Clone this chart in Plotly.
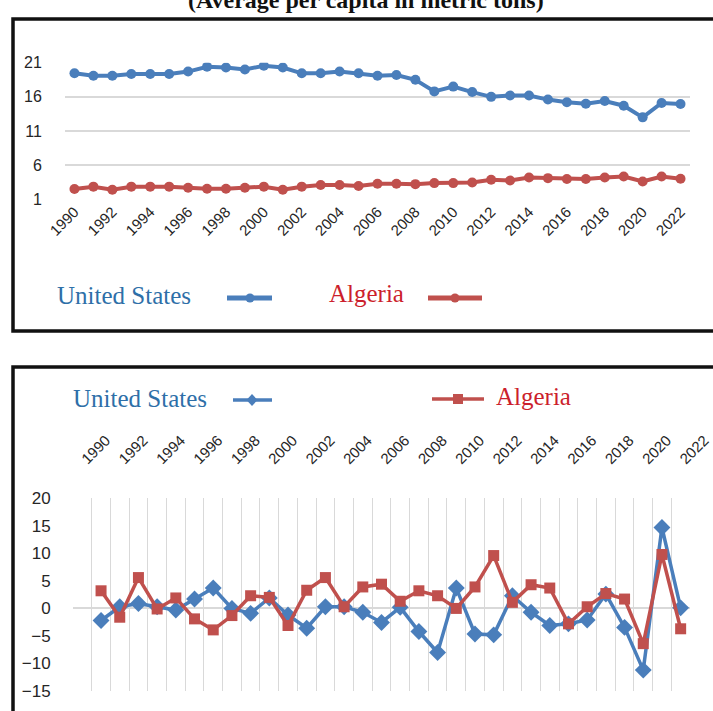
import plotly.graph_objects as go

# ---- data -------------------------------------------------------------
years = list(range(1990, 2023))
year_labels = [str(y) for y in range(1990, 2023, 2)]

# CO2 emissions, average per capita (metric tons)
us_per_capita = [19.45, 19.1, 19.1, 19.35, 19.35, 19.35, 19.7, 20.4, 20.3, 20.0,
                 20.55, 20.3, 19.45, 19.45, 19.7, 19.45, 19.1, 19.2, 18.5, 16.8,
                 17.5, 16.7, 16.0, 16.2, 16.2, 15.6, 15.2, 15.0, 15.4, 14.7,
                 13.0, 15.1, 14.95]
dz_per_capita = [2.5, 2.85, 2.4, 2.85, 2.85, 2.85, 2.7, 2.55, 2.55, 2.7,
                 2.85, 2.4, 2.85, 3.1, 3.1, 2.95, 3.27, 3.27, 3.22, 3.37,
                 3.37, 3.46, 3.85, 3.75, 4.19, 4.1, 3.96, 3.96, 4.19, 4.34,
                 3.6, 4.34, 4.0]

# annual growth rate (%), no value for the first year
us_growth = [None, -2.2, 0.3, 0.9, 0.3, -0.3, 1.7, 3.7, 0.0, -0.9, 1.9,
             -1.2, -3.6, 0.3, 0.3, -0.7, -2.55, 0.2, -4.2, -8.0, 3.7,
             -4.65, -4.8, 2.3, -0.7, -3.1, -2.8, -2.1, 2.6, -3.45, -11.2,
             14.7, 0.1]
dz_growth = [None, 3.2, -1.6, 5.6, -0.1, 1.9, -1.9, -3.9, -1.3, 2.3, 2.0,
             -3.1, 3.3, 5.6, 0.3, 3.9, 4.4, 1.3, 3.2, 2.3, 0.0,
             3.9, 9.6, 1.1, 4.3, 3.7, -2.8, 0.3, 2.7, 1.7, -6.4,
             9.8, -3.7]

top_ticks = [1, 6, 11, 16, 21]
bottom_ticks = [-15, -10, -5, 0, 5, 10, 15, 20]

# ---- styling ----------------------------------------------------------
W, H = 713, 711
BLUE = "#4a7ebb"
RED = "#c0504d"
BLUE_TXT = "#2e6fa8"
RED_TXT = "#cc1f2c"
GRID = "#d9d9d9"
TICK_FONT = "Liberation Sans"
SERIF = "Liberation Serif"


def px_x(v):
    return v / W


def px_y(v):
    return 1 - v / H


fig = go.Figure()

# levels
fig.add_trace(go.Scatter(x=years, y=us_per_capita, mode="lines+markers",
                         line=dict(color=BLUE, width=4),
                         marker=dict(symbol="circle", size=10, color=BLUE),
                         xaxis="x", yaxis="y", showlegend=False))
fig.add_trace(go.Scatter(x=years, y=dz_per_capita, mode="lines+markers",
                         line=dict(color=RED, width=4),
                         marker=dict(symbol="circle", size=10, color=RED),
                         xaxis="x", yaxis="y", showlegend=False))

# growth rates
fig.add_trace(go.Scatter(x=years, y=us_growth, mode="lines+markers",
                         line=dict(color=BLUE, width=3.5),
                         marker=dict(symbol="diamond", size=13, color=BLUE),
                         xaxis="x2", yaxis="y2", showlegend=False))
fig.add_trace(go.Scatter(x=years, y=dz_growth, mode="lines+markers",
                         line=dict(color=RED, width=3.5),
                         marker=dict(symbol="square", size=11, color=RED),
                         xaxis="x2", yaxis="y2", showlegend=False))

label_color = "#262626"

fig.update_layout(
    width=W, height=H,
    margin=dict(l=0, r=0, t=0, b=0, autoexpand=False),
    paper_bgcolor="white", plot_bgcolor="white",
    xaxis=dict(domain=[px_x(65), px_x(690)], anchor="y", automargin=False,
               range=[1989.5, 2022.5],
               tickmode="array", tickvals=list(range(1990, 2023, 2)),
               ticktext=year_labels, tickangle=-45,
               tickfont=dict(family=TICK_FONT, size=15, color=label_color),
               showgrid=False, zeroline=False, showline=False, ticks=""),
    yaxis=dict(domain=[px_y(199.3), px_y(62.7)], anchor="x", automargin=False,
               range=[1, 21], tickmode="array", tickvals=top_ticks,
               tickfont=dict(family=TICK_FONT, size=16, color=label_color),
               showgrid=True, gridcolor=GRID,
               gridwidth=1.5, zeroline=False, showline=False,
               ticks="outside", ticklen=19, tickcolor="rgba(0,0,0,0)"),
    xaxis2=dict(domain=[px_x(73), px_x(690)], anchor="y2", side="top",
                automargin=False, range=[1989.5, 2022.5],
                tickmode="array", tickvals=list(range(1990, 2023, 2)),
                ticktext=year_labels, tickangle=-45,
                tickfont=dict(family=TICK_FONT, size=15, color=label_color),
                showgrid=False, zeroline=False, showline=False,
                ticks="outside", ticklen=24, tickcolor="rgba(0,0,0,0)",
                minor=dict(tickmode="linear", tick0=1989.5, dtick=1,
                           showgrid=True, gridcolor=GRID, gridwidth=1.2,
                           ticks="")),
    yaxis2=dict(domain=[px_y(691), px_y(498.3)], anchor="x2", automargin=False,
                range=[-15, 20], tickmode="array", tickvals=bottom_ticks,
                tickfont=dict(family=TICK_FONT, size=17, color=label_color),
                showgrid=False, zeroline=True, zerolinecolor=GRID,
                zerolinewidth=1.5, showline=False,
                ticks="outside", ticklen=18, tickcolor="rgba(0,0,0,0)"),
)

shapes = []
# panel frames
shapes.append(dict(type="rect", xref="paper", yref="paper",
                   x0=px_x(13), x1=px_x(740), y0=px_y(331), y1=px_y(19),
                   line=dict(color="#111111", width=3.5), layer="below"))
shapes.append(dict(type="rect", xref="paper", yref="paper",
                   x0=px_x(13), x1=px_x(740), y0=px_y(740), y1=px_y(367),
                   line=dict(color="#111111", width=3.5), layer="below"))


def key_line(x0, x1, y, color, width):
    shapes.append(dict(type="line", xref="paper", yref="paper",
                       x0=px_x(x0), x1=px_x(x1), y0=px_y(y), y1=px_y(y),
                       line=dict(color=color, width=width)))


def key_circle(cx, cy, r, color):
    shapes.append(dict(type="circle", xref="paper", yref="paper",
                       x0=px_x(cx - r), x1=px_x(cx + r),
                       y0=px_y(cy + r), y1=px_y(cy - r),
                       fillcolor=color, line=dict(color=color, width=0)))


def key_path(points, color):
    path = "M " + " L ".join(f"{px_x(a):.5f},{px_y(b):.5f}" for a, b in points) + " Z"
    shapes.append(dict(type="path", xref="paper", yref="paper", path=path,
                       fillcolor=color, line=dict(color=color, width=0)))


# legend keys, first panel
key_line(227, 272, 298, BLUE, 5)
key_circle(250, 298, 4.5, BLUE)
key_line(428, 482, 298, RED, 5)
key_circle(455, 298, 4.5, RED)

# legend keys, second panel
key_line(233, 272, 400, BLUE, 3.5)
key_path([(252, 394), (257.5, 400), (252, 406), (246.5, 400)], BLUE)
key_line(432, 484, 399, RED, 3.5)
key_path([(453, 394), (463, 394), (463, 404), (453, 404)], RED)

fig.update_layout(shapes=shapes)

annotations = [
    dict(text="<b>(Average per capita in metric tons)</b>", xref="paper",
         yref="paper", x=px_x(366), y=px_y(15), xanchor="center",
         yanchor="bottom", showarrow=False,
         font=dict(family=SERIF, size=24, color="#111111")),
    dict(text="United States", xref="paper", yref="paper",
         x=px_x(55), y=px_y(295), xanchor="left", yanchor="middle",
         showarrow=False, font=dict(family=SERIF, size=25, color=BLUE_TXT)),
    dict(text="Algeria", xref="paper", yref="paper",
         x=px_x(327), y=px_y(293), xanchor="left", yanchor="middle",
         showarrow=False, font=dict(family=SERIF, size=25, color=RED_TXT)),
    dict(text="United States", xref="paper", yref="paper",
         x=px_x(71), y=px_y(398), xanchor="left", yanchor="middle",
         showarrow=False, font=dict(family=SERIF, size=25, color=BLUE_TXT)),
    dict(text="Algeria", xref="paper", yref="paper",
         x=px_x(494), y=px_y(396), xanchor="left", yanchor="middle",
         showarrow=False, font=dict(family=SERIF, size=25, color=RED_TXT)),
]
fig.update_layout(annotations=annotations)

fig.write_html("out.html")
